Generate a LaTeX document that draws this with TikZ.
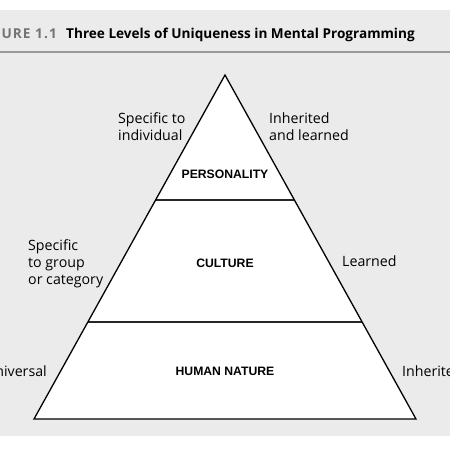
\documentclass[tikz,border=0pt]{standalone}
\usepackage{fontspec}
\setmainfont{Open Sans}
\newfontfamily\lvlfont{Liberation Sans}
\begin{document}
\begin{tikzpicture}[x=1pt,y=-1pt,
  lbl/.style={font=\fontsize{14.2}{17}\selectfont, inner sep=0pt, align=left},
  lvl/.style={font=\lvlfont\bfseries\fontsize{12.2}{14}\selectfont, inner sep=0pt},
  edge/.style={line width=1.3pt, black},
  divider/.style={line width=1.1pt, black!85}]
\useasboundingbox (0,0) rectangle (450,450);
\clip (0,0) rectangle (450,450);
\fill[white] (0,0) rectangle (450,450);
\fill[black!8] (0,10) rectangle (450,436);
\draw[black!40, line width=1.5pt] (0,52) -- (450,52);
\node[anchor=base west, inner sep=0pt, font=\bfseries\fontsize{13.6}{15}\selectfont] (title) at (66,38) {Three Levels of Uniqueness in Mental Programming};
\node[anchor=base east, inner sep=0pt, font=\bfseries\fontsize{13.6}{15}\selectfont\addfontfeature{LetterSpace=8}, text=black!55] (fig) at (57,38) {FIGURE 1.1};
% triangle
\coordinate (apex) at (225,75);
\coordinate (bl) at (34,419);
\coordinate (br) at (416,419);
\coordinate (d1l) at (155.6,200);
\coordinate (d1r) at (294.4,200);
\coordinate (d2l) at (88,322);
\coordinate (d2r) at (362,322);
\fill[white] (apex) -- (bl) -- (br) -- cycle;
\draw[divider] (d1l) -- (d1r);
\draw[divider] (d2l) -- (d2r);
\draw[edge, line join=miter] (apex) -- (bl) -- (br) -- cycle;
% level labels
\node[lvl] (pers) at (225,174) {PERSONALITY};
\node[lvl] (cult) at (225,263) {CULTURE};
\node[lvl] (hum) at (225,371) {HUMAN NATURE};
% side labels
\node[lbl, anchor=base west] (ind) at (118,140) {Specific to\\individual};
\node[lbl, anchor=base west] (inh) at (269,140) {Inherited\\and learned};
\node[lbl, anchor=base west] (grp) at (28,284) {Specific\\to group\\or category};
\node[lbl, anchor=base west] (lrn) at (342,266) {Learned};
\node[lbl, anchor=base east] (uni) at (47,376) {Universal};
\node[lbl, anchor=base west] (inh2) at (402,376) {Inherited};
\end{tikzpicture}
\end{document}
